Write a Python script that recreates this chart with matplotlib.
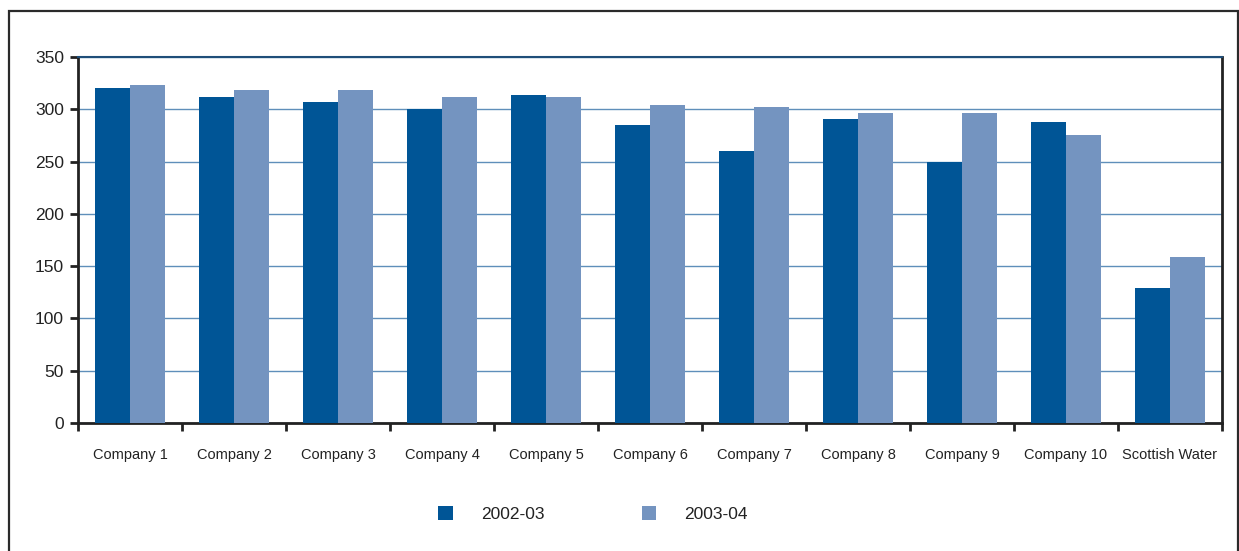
import numpy as np
import matplotlib.pyplot as plt
from matplotlib.patches import Rectangle, Patch

plt.rcParams['font.family'] = ['Liberation Sans', 'DejaVu Sans']

companies = ['Company 1', 'Company 2', 'Company 3', 'Company 4', 'Company 5',
             'Company 6', 'Company 7', 'Company 8', 'Company 9', 'Company 10',
             'Scottish Water']
vals_0203 = [320, 312, 307, 300, 314, 285, 260, 291, 250, 288, 129]
vals_0304 = [323, 318, 318, 312, 312, 304, 302, 296, 296, 275, 159]
years = ['2002-03', '2003-04']

dark = '#005596'
light = '#7494c0'
grid_col = '#5f8fba'

fig = plt.figure(figsize=(12.39, 5.51), dpi=100)
ax = fig.add_axes([78/1239, 1-423/551, (1222-78)/1239, (423-57)/551])

x = np.arange(len(companies))
w = 0.34
ax.bar(x - w/2, vals_0203, w, color=dark, zorder=3)
ax.bar(x + w/2, vals_0304, w, color=light, zorder=3)

ax.set_xlim(-0.5, len(companies) - 0.5)
ax.set_ylim(0, 350)
ax.set_yticks(np.arange(0, 351, 50))
ax.yaxis.grid(True, color=grid_col, linewidth=1.0, zorder=0)
ax.set_axisbelow(True)

# category labels at centres, tick marks at the boundaries
ax.set_xticks(x)
ax.set_xticklabels(companies, fontsize=10.5, color='#222222')
ax.tick_params(axis='x', which='major', length=0, pad=18)
ax.set_xticks(np.arange(-0.5, len(companies), 1.0), minor=True)
ax.tick_params(axis='x', which='minor', length=6, width=2, color='#222222', direction='out')
ax.tick_params(axis='y', length=6, width=2, color='#222222', pad=4,
               labelsize=12.5, labelcolor='#222222')

for side in ['left', 'bottom', 'right']:
    ax.spines[side].set_linewidth(2)
    ax.spines[side].set_color('#222222')
ax.spines['top'].set_color('#1f4e79')
ax.spines['top'].set_linewidth(1.5)

handles = [Patch(facecolor=dark, edgecolor='none'), Patch(facecolor=light, edgecolor='none')]
fig.legend(handles, years, loc='center', bbox_to_anchor=(593/1239, 1-514/551),
           ncol=2, frameon=False, fontsize=12.5, handlelength=0.85, handleheight=0.85,
           handletextpad=1.6, columnspacing=5.6, labelcolor='#222222')

# outer frame around the whole chart
fig.patches.append(Rectangle((9/1239, -0.02), (1238-9)/1239, 1.02 - 11/551,
                             transform=fig.transFigure, fill=False,
                             edgecolor='#2a2a2a', linewidth=1.6))

fig.savefig('out.png', dpi=100)
